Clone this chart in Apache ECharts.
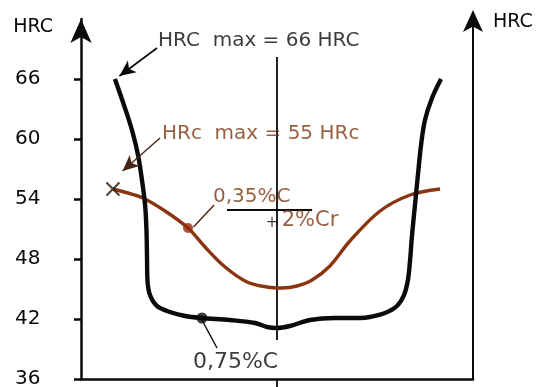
<!DOCTYPE html>
<html>
<head>
<meta charset="utf-8">
<script src="https://cdn.jsdelivr.net/npm/echarts@6/dist/echarts.min.js"></script>
<style>
  html, body { margin: 0; padding: 0; background: #fff; }
  #chart { width: 538px; height: 387px; }
</style>
</head>
<body>
<div id="chart"></div>
<script>
// Hardness (HRC) across a hardened section: position from the centre (arbitrary units) vs HRC.
const hrcTicks = [36, 42, 48, 54, 60, 66];

// 0,75 % C plain carbon steel – hard skin, soft core
const steel075C = [
  [-82.7, 66.0], [-78.1, 63.4], [-74.0, 60.9], [-70.9, 58.4], [-68.9, 55.9],
  [-67.3, 53.4], [-66.6, 50.9], [-66.3, 47.9], [-66.1, 45.9], [-64.8, 44.4],
  [-61.2, 43.3], [-54.6, 42.7], [-46.9, 42.3], [-38.3, 42.1], [-24.0, 41.9],
  [-11.2, 41.6], [-5.1, 41.2], [0, 41.1], [6.6, 41.3], [16.8, 41.9],
  [29.6, 42.1], [42.3, 42.1], [47.4, 42.2], [55.1, 42.6], [61.2, 43.3],
  [64.8, 44.4], [66.8, 45.9], [67.9, 47.9], [68.9, 50.4], [70.4, 53.4],
  [71.9, 56.4], [73.5, 59.4], [75.5, 61.9], [79.1, 64.1], [83.7, 66.0]
];

// 0,35 % C + 2 % Cr alloy steel – lower peak, deeper hardening
const steel035C2Cr = [
  [-83.7, 55.0], [-76.0, 54.6], [-68.4, 54.1], [-57.1, 52.8], [-45.4, 51.1],
  [-36.7, 49.2], [-26.5, 47.2], [-15.3, 45.7], [-5.1, 45.2], [2.6, 45.1],
  [10.2, 45.3], [17.9, 45.9], [27.0, 47.3], [37.2, 49.8], [52.6, 52.8],
  [67.9, 54.4], [83.2, 55.0]
];

// Marked points on each curve (indices into the arrays above)
const dot075Index = 13;
const dotCrIndex = 4;
const maxCrIndex = 0;

// Centre line of the section (broken where the caption sits)
const centreLine = [[0, 68.2], [0, 39.9], [0, '-'], [0, 36.0], [0, 35.2]];

// Caption texts
const captions = ['HRC  max = 66 HRC', 'HRc  max = 55 HRc', '0,35%C', '+', '2%Cr', '0,75%C'];

const INK = '#0a0a0a';
const BROWN = '#8a3510';
const BROWN_TEXT = '#7e3812';
const FONT = 'DejaVu Sans';

// Caption anchors (data coordinates, left edge / vertical middle)
const captionAnchor = [[-60.7, 69.8], [-58.7, 60.5], [-32.7, 54.2], [-5.8, 51.6], [2.4, 51.8], [-42.9, 37.7]];
const captionStyle = [
  { color: INK, fontSize: 20 },
  { color: BROWN_TEXT, fontSize: 20 },
  { color: BROWN_TEXT, fontSize: 20 },
  { color: INK, fontSize: 15 },
  { color: BROWN_TEXT, fontSize: 21 },
  { color: INK, fontSize: 22 }
];

function leader(from, to, color, width, arrow) {
  return [
    { coord: from, symbol: 'none' },
    {
      coord: to,
      symbol: arrow ? 'arrow' : 'none',
      symbolSize: [11, 16],
      lineStyle: { color: color, width: width, type: 'solid' },
      itemStyle: { color: arrow === 'brown' ? BROWN : color }
    }
  ];
}

const chart = echarts.init(document.getElementById('chart'), null, { renderer: 'canvas' });

const hrcAxisBase = {
  type: 'value', min: 36, max: 72, interval: 6,
  splitLine: { show: false }
};

chart.setOption({
  animation: false,
  backgroundColor: '#fff',
  textStyle: { fontFamily: FONT },
  grid: { left: 81, right: 65, top: 19, bottom: 8, containLabel: false, outerBoundsMode: 'none' },
  xAxis: {
    type: 'value', min: -100, max: 100,
    axisLine: { show: true, onZero: false, lineStyle: { color: INK, width: 2.5 } },
    axisTick: { show: false },
    axisLabel: { show: false },
    splitLine: { show: false }
  },
  yAxis: [
    Object.assign({}, hrcAxisBase, {
      position: 'left',
      name: 'HRC',
      nameLocation: 'end',
      nameGap: -8,
      nameMoveOverlap: false,
      nameTextStyle: { color: INK, fontSize: 19, fontFamily: FONT, align: 'right', verticalAlign: 'middle', padding: [0, 28, 0, 0] },
      axisLine: {
        show: true, onZero: false,
        symbol: ['none', 'arrow'], symbolSize: [16, 24], symbolOffset: [0, 0],
        lineStyle: { color: INK, width: 2.5 }
      },
      axisTick: { show: true, customValues: hrcTicks, length: 7, lineStyle: { color: INK, width: 2.5 } },
      axisLabel: { show: true, customValues: hrcTicks, align: 'left', margin: 66, fontSize: 20, color: INK, fontFamily: FONT }
    }),
    Object.assign({}, hrcAxisBase, {
      position: 'right',
      name: 'HRC',
      nameLocation: 'end',
      nameGap: -3,
      nameMoveOverlap: false,
      nameTextStyle: { color: INK, fontSize: 19, fontFamily: FONT, align: 'left', verticalAlign: 'middle', padding: [0, 0, 0, 20] },
      axisLine: {
        show: true, onZero: false,
        symbol: ['none', 'arrow'], symbolSize: [15, 22], symbolOffset: [0, 9],
        lineStyle: { color: INK, width: 2 }
      },
      axisTick: { show: false },
      axisLabel: { show: false }
    })
  ],
  series: [
    {
      name: 'centre',
      type: 'line',
      data: centreLine,
      clip: false,
      symbol: 'none',
      connectNulls: false,
      lineStyle: { color: INK, width: 1.8 },
      silent: true,
      z: 1,
      markLine: {
        silent: true,
        animation: false,
        label: { show: false },
        symbol: ['none', 'none'],
        data: [
          leader([-61.2, 69.1], [-80.4, 66.3], INK, 1.6, 'ink'),
          leader([-59.7, 60.1], [-78.8, 56.8], '#4a2412', 1.4, 'brown'),
          leader([-32.1, 53.4], [-42.6, 51.2], '#4a2412', 1.4, null),
          leader([-30.6, 39.1], [-38.3, 41.9], INK, 1.4, null),
          leader([-25.5, 52.9], [17.9, 52.9], INK, 2, null)
        ]
      }
    },
    {
      name: '0,35%C + 2%Cr',
      type: 'line',
      data: steel035C2Cr,
      smooth: 0.35,
      symbol: 'none',
      lineStyle: { color: BROWN, width: 3.4 },
      z: 3
    },
    {
      name: '0,75%C',
      type: 'line',
      data: steel075C,
      smooth: 0.35,
      symbol: 'none',
      lineStyle: { color: INK, width: 4.4 },
      z: 4
    },
    {
      name: 'points',
      type: 'scatter',
      z: 5,
      silent: true,
      data: [
        { value: steel075C[dot075Index], symbol: 'circle', symbolSize: 11, itemStyle: { color: INK } },
        { value: steel035C2Cr[dotCrIndex], symbol: 'circle', symbolSize: 10, itemStyle: { color: '#9a2a0c' } },
        {
          value: steel035C2Cr[maxCrIndex],
          symbol: 'path://M0,0L10,10M10,0L0,10',
          symbolSize: 13,
          itemStyle: { color: 'transparent', borderColor: '#2a1a12', borderWidth: 2.2 }
        }
      ]
    },
    {
      name: 'captions',
      type: 'scatter',
      z: 6,
      silent: true,
      symbolSize: 0,
      data: captions.map((text, i) => ({
        value: captionAnchor[i],
        label: Object.assign({
          show: true,
          position: 'right',
          distance: 0,
          formatter: text,
          fontFamily: FONT,
          align: 'left',
          verticalAlign: 'middle'
        }, captionStyle[i])
      }))
    }
  ]
});
</script>
</body>
</html>
